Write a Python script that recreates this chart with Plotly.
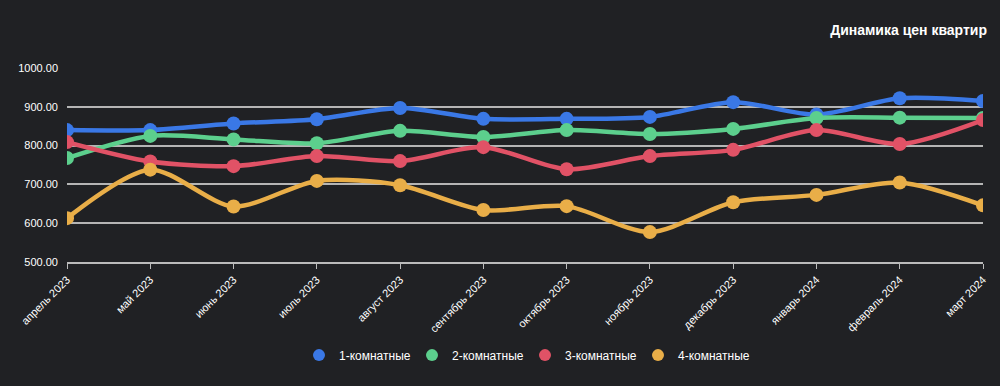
import plotly.graph_objects as go

months = ["апрель 2023", "май 2023", "июнь 2023", "июль 2023", "август 2023",
          "сентябрь 2023", "октябрь 2023", "ноябрь 2023", "декабрь 2023",
          "январь 2024", "февраль 2024", "март 2024"]
room1 = [840, 840, 857, 868, 897, 869, 869, 874, 912, 880, 922, 915]
room2 = [768, 825, 816, 806, 838, 822, 840, 830, 843, 871, 872, 871]
room3 = [809, 759, 747, 773, 760, 796, 739, 773, 789, 840, 804, 866]
room4 = [613, 738, 643, 709, 698, 634, 644, 577, 654, 673, 705, 646]

series_names = ["1-комнатные", "2-комнатные", "3-комнатные", "4-комнатные"]
colors = ["#3a78e6", "#5ccf8d", "#e15266", "#e9ae48"]

fig = go.Figure()
for name, vals, c in zip(series_names, [room1, room2, room3, room4], colors):
    fig.add_trace(go.Scatter(
        x=months, y=vals, name=name, mode="lines+markers", showlegend=False,
        legendgroup=name,
        line=dict(color=c, width=4.5, shape="spline", smoothing=0.8),
        marker=dict(color=c, size=14),
    ))
for name, c in zip(series_names, colors):
    fig.add_trace(go.Scatter(
        x=[None], y=[None], name=name, mode="markers", legendgroup=name,
        marker=dict(color=c, size=14), showlegend=True,
    ))

fig.update_layout(
    width=1000, height=386,
    paper_bgcolor="#202124", plot_bgcolor="#202124",
    margin=dict(l=67, r=14, t=68, b=124),
    font=dict(family="Liberation Sans, Arial, sans-serif", color="#ffffff", size=11),
    title=dict(text="<b>Динамика цен квартир</b>", x=0.987, xanchor="right",
               y=1 - 30 / 386, yanchor="middle",
               font=dict(size=14, color="#ffffff")),
    showlegend=True,
    legend=dict(orientation="h", x=0.5, xanchor="center", y=-0.48, yanchor="middle",
                font=dict(size=12, color="#ffffff"), itemsizing="constant",
                bgcolor="rgba(0,0,0,0)", itemwidth=30,
                entrywidth=68, entrywidthmode="pixels"),
    hovermode="x",
)
fig.update_xaxes(
    type="category", tickangle=-45, showgrid=False, showline=True,
    linecolor="#bbbbbb", linewidth=2, ticks="outside", tickcolor="#bbbbbb",
    ticklen=5, tickwidth=1, tickfont=dict(size=11, color="#ffffff"),
    range=[0, 11], zeroline=False,
)
fig.update_yaxes(
    range=[500, 1000], tickvals=[500, 600, 700, 800, 900, 1000],
    ticktext=["500.00", "600.00", "700.00", "800.00", "900.00", "1000.00"],
    showgrid=True, gridcolor="#b5b5b5", gridwidth=1.5, zeroline=False,
    showline=False, tickfont=dict(size=11, color="#ffffff"), ticklabelstandoff=8,
)

fig.write_html("out.html", config={"displayModeBar": False})
with open("out.html", encoding="utf-8") as f:
    html = f.read()
html = html.replace("<head>", "<head><style>html,body{margin:0;padding:0;overflow:hidden;background:#202124;}</style>", 1)
with open("out.html", "w", encoding="utf-8") as f:
    f.write(html)
